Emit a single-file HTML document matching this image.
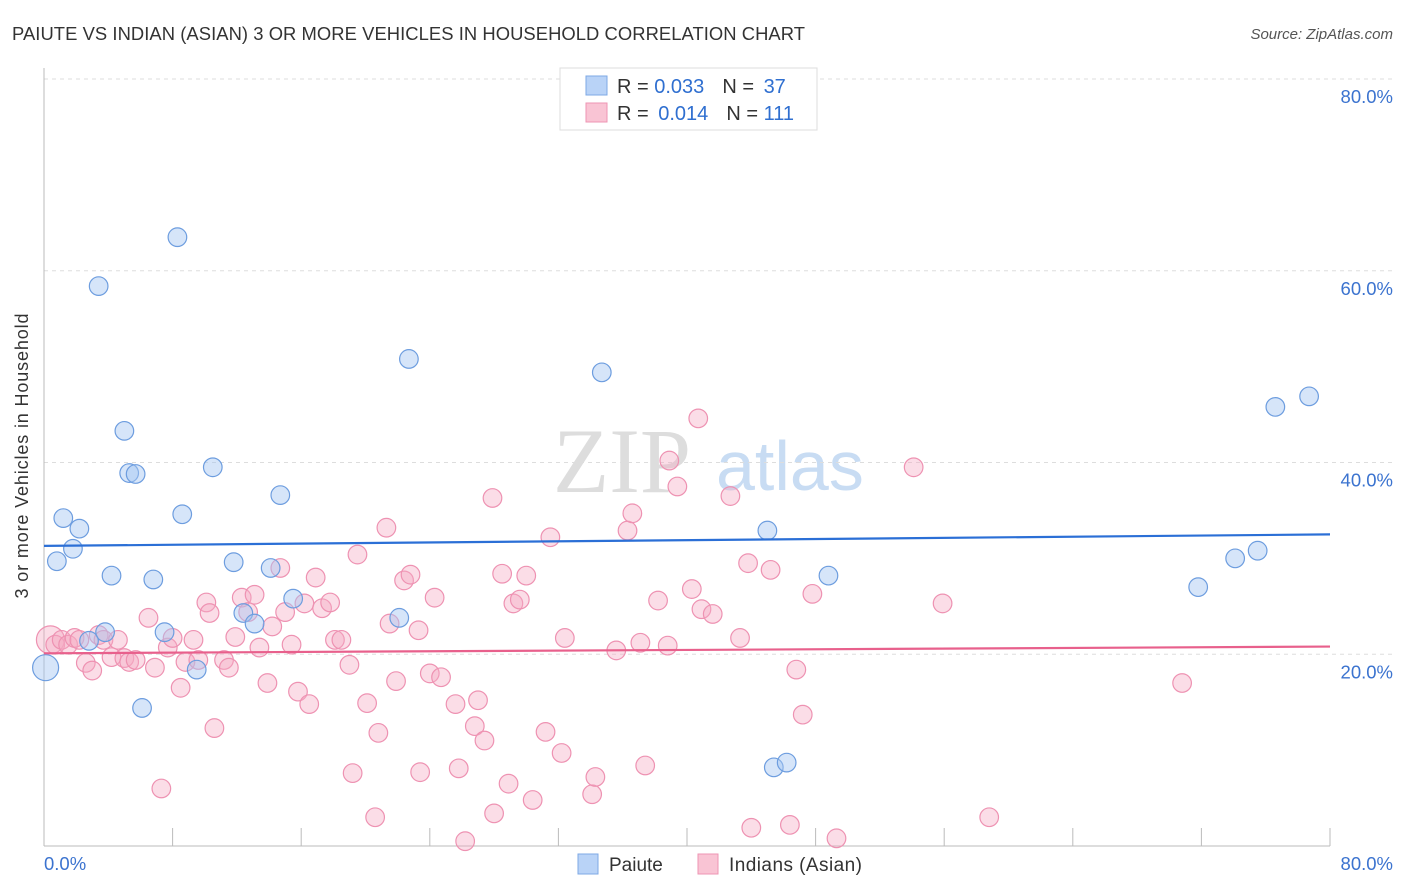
<!DOCTYPE html>
<html><head><meta charset="utf-8"><style>
body{margin:0;background:#fff;font-family:"Liberation Sans",sans-serif}
svg{display:block}
</style></head><body>
<svg id="c" width="1406" height="892" xmlns="http://www.w3.org/2000/svg">
<text x="12" y="40" font-size="18.4" fill="#333" textLength="793">PAIUTE VS INDIAN (ASIAN) 3 OR MORE VEHICLES IN HOUSEHOLD CORRELATION CHART</text>
<text x="1393" y="39" font-size="15" fill="#555" font-style="italic" text-anchor="end">Source: ZipAtlas.com</text>
<g>
<text x="553" y="492" font-size="92" font-family="Liberation Serif,serif" fill="#ddd">ZIP</text>
<text x="716" y="490" font-size="70" fill="#c8dcf3">atlas</text>
</g>
<g id="grid"></g>
<g id="pts"></g>
<g id="lines"></g>
<text x="28" y="456" font-size="18" fill="#333" text-anchor="middle" textLength="285" transform="rotate(-90 28 456)">3 or more Vehicles in Household</text>
<g>
<rect x="560" y="68" width="257" height="62" fill="#fff" stroke="#ddd"/>
<rect x="586" y="76" width="21" height="19" fill="#b9d3f7" stroke="#7ea8e4"/>
<rect x="586" y="103" width="21" height="19" fill="#f9c4d4" stroke="#ee95b3"/>
<text x="617" y="93" font-size="20" fill="#333">R = <tspan fill="#2f6fd0">0.033</tspan><tspan dx="18">N = </tspan><tspan fill="#2f6fd0" dx="4">37</tspan></text>
<text x="617" y="120" font-size="20" fill="#333">R = <tspan fill="#2f6fd0" dx="4">0.014</tspan><tspan dx="18">N = </tspan><tspan fill="#2f6fd0">111</tspan></text>
</g>
<g>
<rect x="578" y="854" width="20" height="20" fill="#b9d3f7" stroke="#7ea8e4"/>
<text x="609" y="871" font-size="19" fill="#333">Paiute</text>
<rect x="698" y="854" width="20" height="20" fill="#f9c4d4" stroke="#ee95b3"/>
<text x="729" y="871" font-size="19" fill="#333" textLength="133">Indians (Asian)</text>
</g>
</svg>
<script>
const yTicks=[20,40,60,80];
const yTickLabels=["20.0%","40.0%","60.0%","80.0%"];
const xTicks=[0,8,16,24,32,40,48,56,64,72,80];
const blueX=[0.1,0.8,1.2,1.8,2.2,2.8,3.4,3.8,4.2,5.0,5.3,5.7,6.1,6.8,7.5,8.3,8.6,9.5,10.5,11.8,12.4,13.1,14.1,14.7,15.5,22.1,22.7,34.7,45.0,45.4,46.2,48.8,71.8,74.1,75.5,76.6,78.7];
const blueY=[18.6,29.7,34.2,31.0,33.1,21.4,58.4,22.3,28.2,43.3,38.9,38.8,14.4,27.8,22.3,63.5,34.6,18.4,39.5,29.6,24.3,23.2,29.0,36.6,25.8,23.8,50.8,49.4,32.9,8.2,8.7,28.2,27.0,30.0,30.8,45.8,46.9];
const pinkX=[0.4,0.7,1.1,1.5,1.9,2.2,2.6,3.0,3.4,3.7,4.2,4.6,5.0,5.3,5.7,6.5,6.9,7.3,7.7,8.0,8.5,8.8,9.3,9.6,10.1,10.3,10.6,11.2,11.5,11.9,12.3,12.7,13.1,13.4,13.9,14.2,14.7,15.0,15.4,15.8,16.2,16.5,16.9,17.3,17.8,18.1,18.5,19.0,19.5,19.2,20.1,20.6,20.8,21.3,21.5,21.9,22.4,22.8,23.3,23.4,24.0,24.3,24.7,25.6,25.8,26.2,26.8,27.0,27.4,27.9,28.0,28.5,28.9,29.2,29.6,30.0,30.4,31.2,31.5,32.2,32.4,34.1,34.3,35.6,36.3,36.6,37.1,37.4,38.2,38.8,38.9,39.4,40.3,40.7,40.9,41.6,42.7,43.3,43.8,44.0,45.2,46.4,46.8,47.2,47.8,49.3,54.1,55.9,58.8,70.8];
const pinkY=[21.5,21.0,21.5,21.0,21.7,21.5,19.1,18.3,22.0,21.5,19.7,21.5,19.6,19.2,19.4,23.8,18.6,6.0,20.7,21.7,16.5,19.2,21.5,19.4,25.4,24.3,12.3,19.4,18.6,21.8,25.9,24.4,26.2,20.7,17.0,22.9,29.0,24.4,21.0,16.1,25.3,14.8,28.0,24.8,25.4,21.5,21.5,18.9,30.4,7.6,14.9,3.0,11.8,33.2,23.2,17.2,27.7,28.3,22.5,7.7,18.0,25.9,17.6,14.8,8.1,0.5,12.5,15.2,11.0,36.3,3.4,28.4,6.5,25.3,25.7,28.2,4.8,11.9,32.2,9.7,21.7,5.4,7.2,20.4,32.9,34.7,21.2,8.4,25.6,20.9,40.2,37.5,26.8,44.6,24.7,24.2,36.5,21.7,29.5,1.9,28.8,2.2,18.4,13.7,26.3,0.8,39.5,25.3,3.0,17.0];
const blueTrend=[31.3,32.5];
const pinkTrend=[20.1,20.8];
const NS="http://www.w3.org/2000/svg";
const X=v=>44+v/80*1286, Y=v=>846-v/80*767;
function mk(tag,a,p){const e=document.createElementNS(NS,tag);for(const k in a)e.setAttribute(k,a[k]);p.appendChild(e);return e;}
const g=document.getElementById('grid');
yTicks.forEach((t,i)=>{
 const l=mk('line',{x1:44,x2:1393,y1:Y(t),y2:Y(t),stroke:'#ddd','stroke-dasharray':'4,4'},g);
 
 
 const tx=mk('text',{x:1393,y:Y(t)+24,'font-size':18.5,fill:'#3b73cf','text-anchor':'end'},g);
 tx.textContent=yTickLabels[i];
 
 
});
const ax=mk('line',{x1:44,x2:44,y1:68,y2:846,stroke:'#bbb'},g);


const bx=mk('line',{x1:44,x2:1330,y1:846,y2:846,stroke:'#bbb'},g);


xTicks.forEach(t=>{const l=mk('line',{x1:X(t),x2:X(t),y1:828,y2:846,stroke:'#bbb'},g);
 
 });
[["0.0%",44,"start"],["80.0%",1393,"end"]].forEach(d=>{const t=mk('text',{x:d[1],y:870,'font-size':18.5,fill:'#3b73cf','text-anchor':d[2]},g);t.textContent=d[0];
 
 });
const p=document.getElementById('pts');
pinkX.forEach((x,i)=>{const c=mk('circle',{cx:X(x),cy:Y(pinkY[i]),r:i==0?14:9.3,fill:'rgba(246,170,196,0.4)',stroke:'#ee92b2','stroke-width':1.2},p);
 
 });
blueX.forEach((x,i)=>{const c=mk('circle',{cx:X(x),cy:Y(blueY[i]),r:i==0?13:9.3,fill:'rgba(164,198,242,0.45)',stroke:'#6d9ddf','stroke-width':1.2},p);
 
 });
const L=document.getElementById('lines');
const b=mk('line',{x1:X(0),x2:X(80),y1:Y(blueTrend[0]),y2:Y(blueTrend[1]),stroke:'#2b6fd6','stroke-width':2.2},L);


const pk=mk('line',{x1:X(0),x2:X(80),y1:Y(pinkTrend[0]),y2:Y(pinkTrend[1]),stroke:'#e8608c','stroke-width':2.2},L);


</script>
</body></html>
